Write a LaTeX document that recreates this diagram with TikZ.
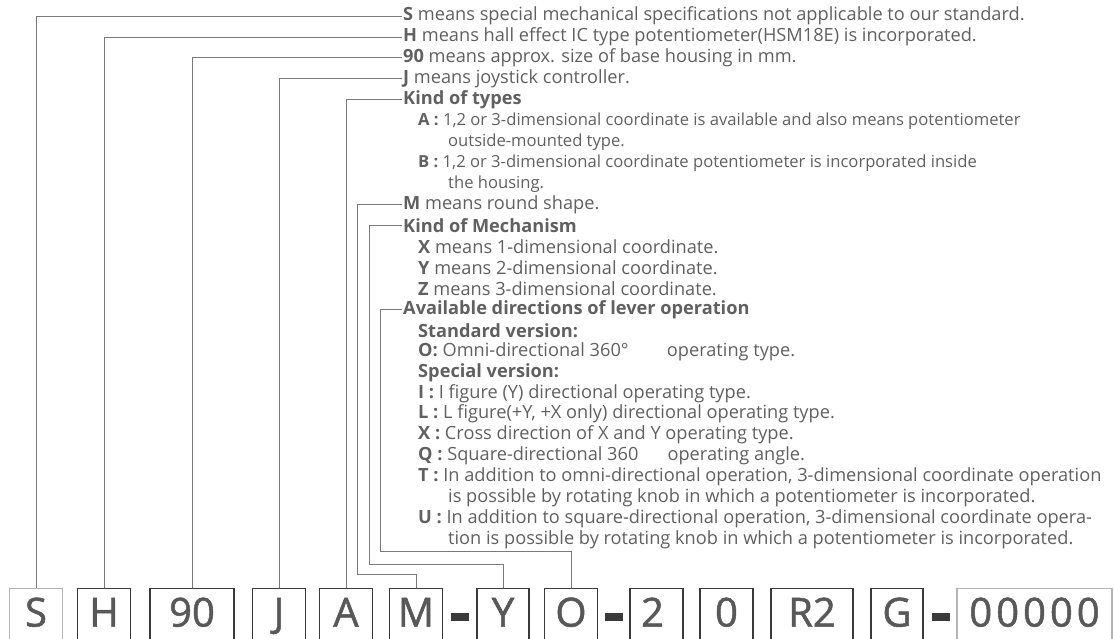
\documentclass[tikz,border=0pt]{standalone}
\usepackage{fontspec}
\setmainfont{Open Sans}
\newfontfamily\codefont{Open Sans}[FakeBold=1.3]
\usetikzlibrary{positioning}
\definecolor{txtgray}{HTML}{606060}
\definecolor{linegray}{HTML}{7A7A7A}
\definecolor{boxdark}{HTML}{3A3A3A}
\definecolor{boxlight}{HTML}{B4B4B4}
\definecolor{lettergray}{HTML}{585858}

\begin{document}
\begin{tikzpicture}[x=1pt, y=-1pt,
  desc/.style={anchor=west, inner sep=1pt, text=txtgray, font=\fontsize{18.2}{18.2}\selectfont},
  descsmall/.style={desc, font=\fontsize{16.6}{16.6}\selectfont},
  code/.style={draw=boxdark, line width=1.1pt, anchor=north, inner xsep=0pt, inner ysep=10pt,
    text height=28pt, text depth=30pt, text=lettergray, font=\codefont\fontsize{40}{40}\selectfont},
  codelight/.style={code, draw=boxlight},
  dashbar/.style={fill=boxdark, minimum width=18pt, minimum height=8pt, inner sep=0pt},
  lead/.style={draw=linegray, line width=0.9pt}]
  \useasboundingbox (0,0) rectangle (1114,638);
  \clip (0,0) rectangle (1114,638);

  % descriptions
  \node[desc] (tS) at (402,16.0) {\textbf{S} means special mechanical specifications not applicable to our standard.};
  \node[desc] (tH) at (402,37.0) {\textbf{H} means hall effect IC type potentiometer(HSM18E) is incorporated.};
  \node[desc] (t90) at (402,57.9) {\textbf{90} means approx. size of base housing in mm.};
  \node[desc] (tJ) at (402,78.9) {\textbf{J} means joystick controller.};
  \node[desc] (tA) at (402,99.8) {\textbf{Kind of types}};
  \node[descsmall] (tA1) at (417,120.8) {\textbf{A :} 1,2 or 3-dimensional coordinate is available and also means potentiometer};
  \node[descsmall] (tA2) at (447,141.8) {outside-mounted type.};
  \node[descsmall] (tB1) at (417,162.7) {\textbf{B :} 1,2 or 3-dimensional coordinate potentiometer is incorporated inside};
  \node[descsmall] (tB2) at (447,183.7) {the housing.};
  \node[desc] (tM) at (402,204.6) {\textbf{M} means round shape.};
  \node[desc] (tY) at (402,225.6) {\textbf{Kind of Mechanism}};
  \node[desc] (tY1) at (417,246.6) {\textbf{X} means 1-dimensional coordinate.};
  \node[desc] (tY2) at (417,267.5) {\textbf{Y} means 2-dimensional coordinate.};
  \node[desc] (tY3) at (417,288.5) {\textbf{Z} means 3-dimensional coordinate.};
  \node[desc] (tO) at (402,309.4) {\textbf{Available directions of lever operation}};
  \node[desc] (tO1) at (417,330.4) {\textbf{Standard version:}};
  \node[desc] (tO2) at (417,351.4) {\textbf{O:} Omni-directional 360°\hspace{2.1em}operating type.};
  \node[desc] (tO3) at (417,372.3) {\textbf{Special version:}};
  \node[desc] (tO4) at (417,393.3) {\textbf{I :} I figure (Y) directional operating type.};
  \node[desc] (tO5) at (417,414.2) {\textbf{L :} L figure(+Y, +X only) directional operating type.};
  \node[desc] (tO6) at (417,435.2) {\textbf{X :} Cross direction of X and Y operating type.};
  \node[desc] (tO7) at (417,456.2) {\textbf{Q :} Square-directional 360\hspace{1.6em}operating angle.};
  \node[desc] (tO8) at (417,477.1) {\textbf{T :} In addition to omni-directional operation, 3-dimensional coordinate operation};
  \node[desc] (tO9) at (447,498.1) {is possible by rotating knob in which a potentiometer is incorporated.};
  \node[desc] (tO10) at (417,519.0) {\textbf{U :} In addition to square-directional operation, 3-dimensional coordinate opera-};
  \node[desc] (tO11) at (447,540.0) {tion is possible by rotating knob in which a potentiometer is incorporated.};

  % code boxes
  \node[codelight, minimum width=53pt] (bS) at (36,588) {S};
  \node[code, minimum width=53pt] (bH) at (104,588) {H};
  \node[code, minimum width=84pt] (b90) at (192,588) {90};
  \node[code, minimum width=53pt] (bJ) at (279,588) {J};
  \node[code, minimum width=53pt] (bA) at (346,588) {A};
  \node[code, minimum width=53pt] (bM) at (416,588) {M};
  \node[dashbar] (d1) at (460,617) {};
  \node[code, minimum width=52pt] (bY) at (503,588) {Y};
  \node[code, minimum width=53pt] (bO) at (571,588) {O};
  \node[dashbar] (d2) at (613.5,617) {};
  \node[code, minimum width=53pt] (b2) at (656.5,588) {\hspace*{-8pt}2};
  \node[code, minimum width=53pt] (b0) at (726.5,588) {0};
  \node[code, minimum width=82pt] (bR) at (812,588) {R2};
  \node[code, minimum width=52pt] (bG) at (897,588) {G};
  \node[dashbar] (d3) at (941,617) {};
  \node[codelight, minimum width=155pt] (bN) at (1034.5,588) {0\kern4pt0\kern4pt0\kern4pt0\kern4pt0};

  % leaders
  \coordinate (jM) at (357,574);
  \coordinate (jY) at (369,564);
  \coordinate (jO) at (380,551);
  \draw[lead] (bS.north) |- (tS.west);
  \draw[lead] (bH.north) |- (tH.west);
  \draw[lead] (b90.north) |- (t90.west);
  \draw[lead] (bJ.north) |- (tJ.west);
  \draw[lead] (bA.north) |- (tA.west);
  \draw[lead] (bM.north) |- (jM) |- (tM.west);
  \draw[lead] (bY.north) |- (jY) |- (tY.west);
  \draw[lead] (bO.north) |- (jO) |- (tO.west);
\end{tikzpicture}
\end{document}
